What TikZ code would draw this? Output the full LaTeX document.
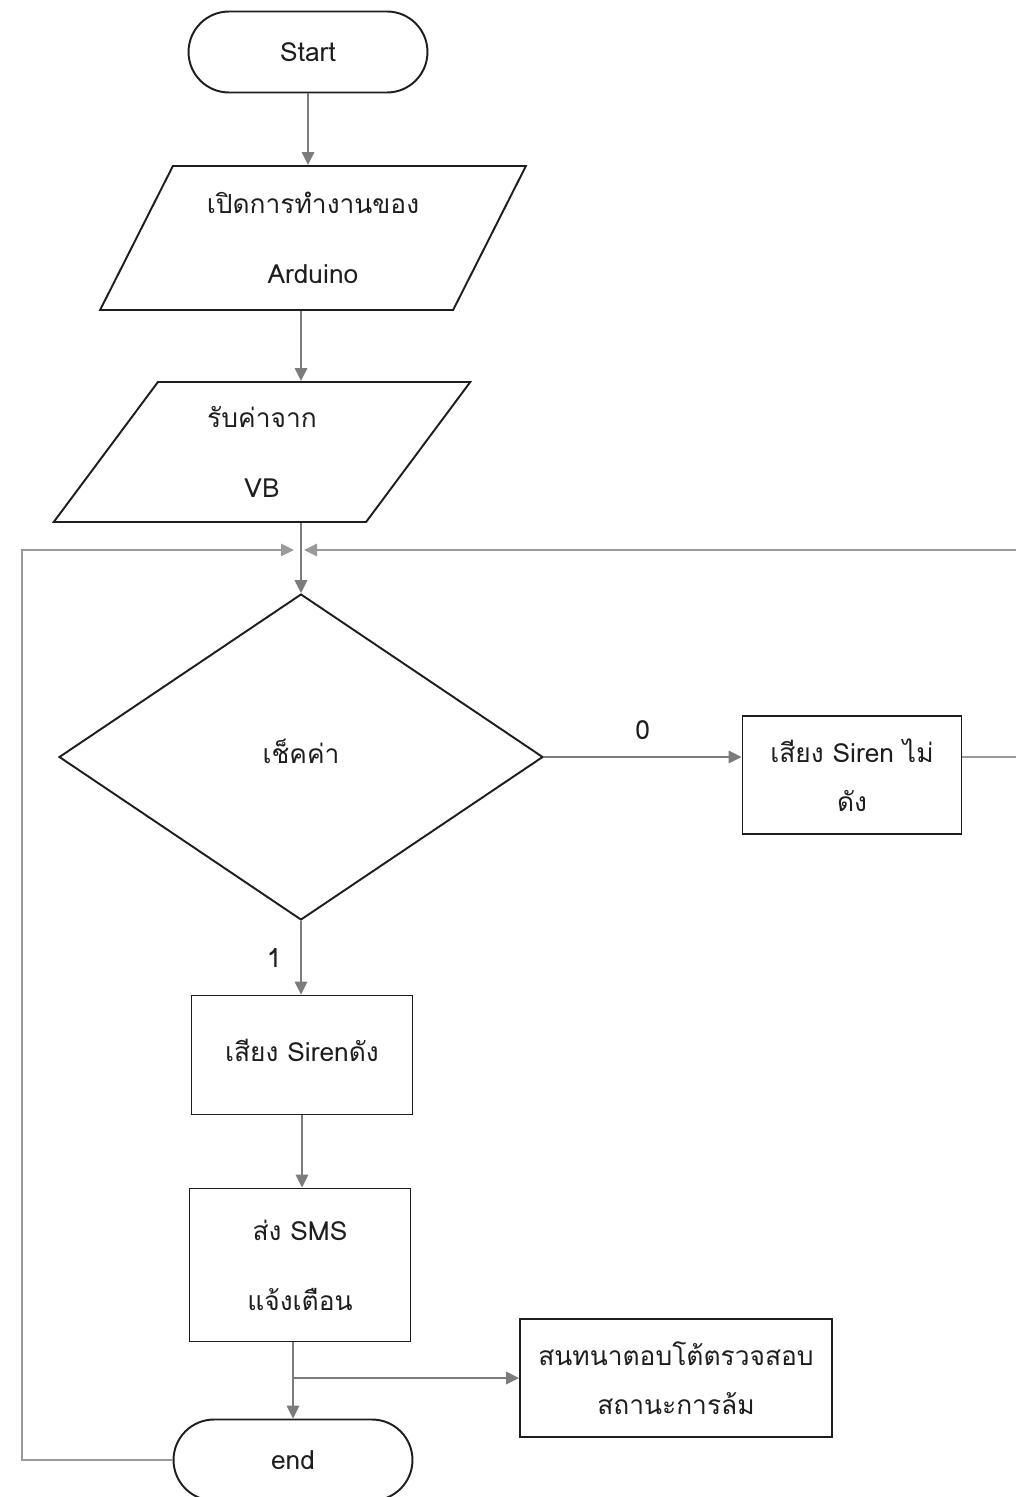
\documentclass[tikz,border=0pt]{standalone}
\usepackage{fontspec}
\newfontfamily\thaifont[Script=Thai]{Loma}
\usepackage{tikz}
\usetikzlibrary{
arrows.meta,
shapes.geometric,
shapes.misc
}
\definecolor{FlowEdge}{HTML}{1E1E1E}
\definecolor{FlowLine}{HTML}{7C7C7C}
\definecolor{FlowLoop}{HTML}{9A9A9A}
\tikzset{
flowtext/.style={font=\thaifont\fontsize{15}{20}\selectfont, text=FlowEdge},
flowterm/.style={flowtext, draw=FlowEdge, line width=1.1pt, rounded rectangle,
  minimum width=4.78cm, minimum height=1.62cm, inner sep=0pt},
flowio/.style={flowtext, draw=FlowEdge, line width=1.1pt, trapezium,
  trapezium left angle=59, trapezium right angle=121, trapezium stretches=true,
  align=center, inner sep=0pt},
flowdecide/.style={flowtext, draw=FlowEdge, line width=1.1pt, diamond,
  minimum width=9.68cm, minimum height=6.52cm, inner sep=0pt},
flowstep/.style={flowtext, draw=FlowEdge, line width=1.1pt, rectangle,
  align=center, inner sep=0pt},
flowlabel/.style={flowtext, inner sep=2pt},
flowarrow/.style={-{Triangle[length=2.6mm,width=2.5mm]}, line width=1pt, draw=FlowLine, fill=FlowLine},
loopline/.style={-{Triangle[length=2.6mm,width=2.5mm]}, line width=0.7pt, draw=FlowLoop}
}

\begin{document}
\begin{tikzpicture}[x=0.02cm, y=-0.02cm]
\clip (0,0) rectangle (1016,1497);

% main column
\node[flowterm] (start) at (308,52) {Start};
\node[flowio, minimum width=8.54cm, minimum height=2.88cm] (openard) at (313,238)
  {เปิดการทำงานของ\\[0.7cm]Arduino};
\node[flowio, minimum width=8.34cm, minimum height=2.8cm] (readvb) at (262,452)
  {รับค่าจาก\\[0.7cm]VB};
\node[flowdecide] (check) at (301,757) {\raisebox{0.22cm}{เช็คค่า}};
\node[flowstep, minimum width=4.38cm, minimum height=2.36cm] (sirenoff) at (852,775)
  {เสียง Siren ไม่\\[0.28cm]ดัง};
\node[flowstep, minimum width=4.42cm, minimum height=2.38cm] (sirenon) at (302,1055)
  {\raisebox{0.18cm}{เสียง Sirenดัง}};
\node[flowstep, minimum width=4.42cm, minimum height=3.06cm] (sendsms) at (300,1265)
  {ส่ง SMS\\[0.7cm]แจ้งเตือน};
\node[flowstep, minimum width=6.24cm, minimum height=2.36cm] (chat) at (676,1378)
  {สนทนาตอบโต้ตรวจสอบ\\[0.28cm]สถานะการล้ม};
\node[flowterm] (finish) at (293,1460) {\raisebox{-0.14cm}{end}};

% loop rails
\coordinate (mergeL) at (294,550);
\coordinate (mergeR) at (304,550);
\coordinate (leftrail) at (22,550);
\coordinate (rightrail) at (1030,550);

\draw[flowarrow] (start.south) -- (start.south |- openard.north);
\draw[flowarrow] (openard.south -| check.north) -- (readvb.north -| check.north);
\draw[flowarrow] (readvb.south -| check.north) -- (check.north);

\draw[flowarrow] (check.east) -- node[flowlabel, above=0.25cm] (zero) {0}
  (check.east -| sirenoff.west);
\draw[flowarrow] (check.south) -- node[flowlabel, left=0.3cm] (one) {1}
  (check.south |- sirenon.north);
\draw[flowarrow] (sirenon.south) -- (sirenon.south |- sendsms.north);
\draw[flowarrow] (sendsms.south -| finish.north) -- (finish.north);
\draw[flowarrow] (finish.north |- chat.west) -- (chat.west);

\draw[loopline] (finish.west) -| (leftrail) -- (mergeL);
\draw[loopline] (sirenoff.east |- check.east) -| (rightrail) -- (mergeR);
\end{tikzpicture}
\end{document}
